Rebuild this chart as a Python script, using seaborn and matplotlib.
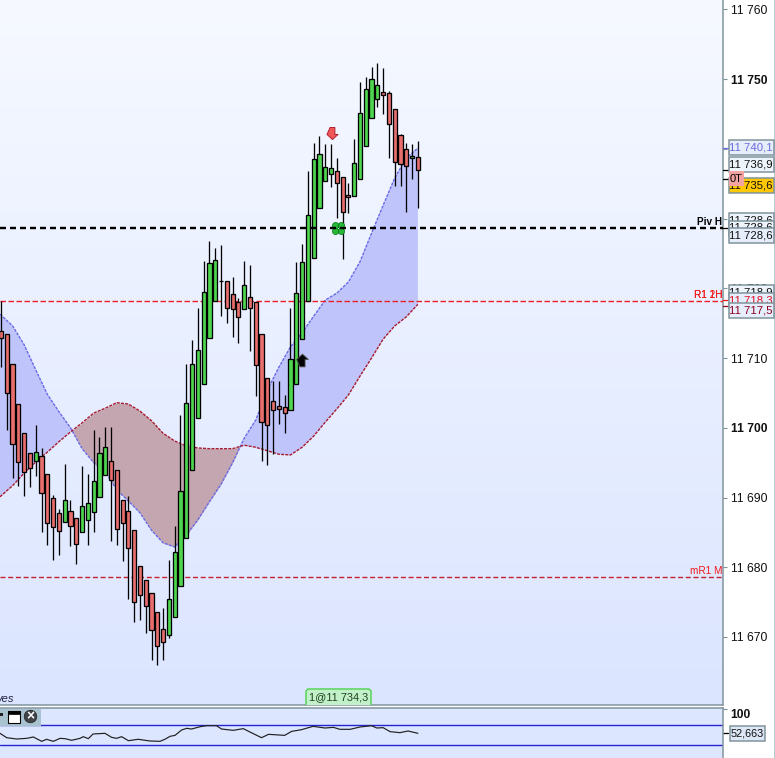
import matplotlib
matplotlib.use("Agg")
import matplotlib.pyplot as plt
import numpy as np
import seaborn as sns
from matplotlib.colors import LinearSegmentedColormap
from matplotlib.patches import Rectangle, FancyBboxPatch, Circle
from matplotlib.path import Path
from matplotlib.transforms import Affine2D

BASE = 11000  # every price list below is stored above this base
opens = [713.9,713.4,709.1,703.4,699.2,696.4,695.2,696.0,693.4,689.9,687.8,686.5,688.1,687.1,685.1,686.8,687.9,690.1,693.2,695.2,694.0,689.6,688.1,685.3,680.2,678.2,676.3,673.6,671.2,670.3,672.9,677.3,684.2,694.0,701.4,706.3,712.9,718.2,721.0,721.0,719.2,718.0,717.0,718.8,718.0,713.4,707.1,703.8,703.1,703.0,702.6,706.3,712.7,718.2,724.3,731.5,735.4,736.4,736.8,736.0,733.4,733.2,735.7,740.4,744.4,747.1,748.1,748.0,745.7,742.0,740.0,738.7,738.8]
closes = [712.9,705.0,697.7,695.1,693.7,694.2,696.5,690.6,686.4,685.8,685.2,689.6,685.9,683.3,688.8,689.2,692.4,696.4,697.2,692.5,685.5,686.4,682.8,675.0,676.0,674.5,671.0,668.7,669.3,675.5,682.2,690.9,703.6,709.1,711.2,719.5,723.6,724.1,721.0,717.2,717.0,715.9,720.5,717.2,709.0,700.8,700.4,702.6,702.7,702.1,709.9,719.3,723.8,730.5,738.5,739.3,737.4,737.2,735.1,730.9,733.1,738.0,745.1,748.6,750.0,749.1,747.7,743.6,738.1,737.8,737.5,739.0,737.0]
highs = [718.2,713.4,709.1,703.4,699.2,696.4,700.4,697.1,693.4,690.4,688.4,694.8,689.6,687.1,694.5,693.4,699.7,698.7,700.1,700.1,694.0,689.6,690.2,685.3,680.2,678.2,676.3,673.6,674.2,681.0,685.9,701.8,709.1,712.6,717.2,723.9,726.8,725.8,726.2,721.0,721.6,718.6,723.9,723.3,718.0,713.4,707.1,706.7,706.7,704.7,717.2,723.8,726.3,736.8,740.8,741.8,740.7,740.7,738.7,736.0,735.1,741.4,749.6,750.3,751.7,752.3,751.6,748.3,745.7,742.1,740.8,740.7,741.1]
lows = [708.7,699.7,692.8,691.7,690.2,691.5,693.1,685.1,683.2,681.0,681.8,686.5,683.1,680.5,685.1,683.2,685.1,690.1,693.2,683.8,683.2,680.9,675.5,672.2,672.4,670.6,666.7,666.0,666.7,669.9,672.9,677.3,684.2,694.0,701.4,706.3,712.9,718.2,716.0,715.0,713.0,712.2,717.0,711.0,704.6,695.2,694.7,696.2,700.5,699.2,702.6,706.3,712.7,718.2,724.3,731.5,735.4,734.5,730.1,724.2,730.8,733.2,735.7,740.4,744.4,746.0,745.0,738.7,734.7,734.7,730.9,735.7,731.5]

# Cloud boundaries, read at every second candle
cloud_idx = list(range(0, 73, 2))
cloud_blue = [716.3,714.6,711.9,708.3,704.8,702.3,700.0,697.0,695.0,693.7,691.1,689.5,687.8,685.3,683.5,682.9,684.6,686.8,689.4,691.9,695.0,698.5,701.1,705.4,708.7,711.6,713.6,716.0,718.3,719.3,720.9,723.8,727.9,731.9,735.8,738.7,740.1]
cloud_red = [690.1,691.7,693.5,695.1,696.5,698.0,699.4,700.7,702.1,702.8,703.6,703.4,702.4,701.0,699.2,698.1,697.4,697.1,697.0,697.0,697.0,697.5,697.2,696.7,696.2,696.1,697.2,698.8,700.8,702.7,704.7,707.4,710.0,712.7,714.6,715.9,717.7]

# Oscillator
osc_idx = [-0.17,0.98,2.7,4.43,5.58,7.02,7.88,9.04,10.2,11.05,12.2,13.64,14.22,15.08,15.9,17.96,19.1,19.97,20.84,22,23.7,25.7,27.46,28.3,29.2,30.05,31.2,32.07,32.9,34.4,35.5,37.2,38.1,40.1,41.85,43,45,46.2,49,50.2,51.9,53.9,55.96,57.4,58.55,60.3,62,64,64.9,66,67.2,68.9,70.3,72]
osc_val = [52.6,44.0,41.4,42.7,45.4,36.8,40.8,36.8,42.7,42.1,38.8,42.7,46.0,42.1,51.3,52.6,44.7,42.7,46.0,38.1,40.8,37.5,36.8,40.8,46.7,48.6,59.2,62.5,61.1,65.7,67.7,67.7,61.1,58.5,61.8,55.2,44.0,50.6,48.6,56.5,59.8,66.4,63.1,64.4,60.5,60.5,65.1,67.7,63.1,63.8,55.9,53.9,57.2,52.663]
osc_levels = [70, 30]

y_ticks = [11670, 11680, 11690, 11700, 11710, 11720, 11730, 11740, 11750, 11760]
y_labels = ["11 670", "11 680", "11 690", "11 700", "11 710", "11 720", "11 730", "11 740", "11 750", "11 760"]
bold_labels = ["11 700", "11 750"]

pivot_price = 11728.6
r1_price = 11718.2
mr1_price = 11678.6
marker_prices = [(11740.1, "#7070e8"), (11736.9, "black"), (11735.6, "black"), (11728.6, "black"), (11718.3, "#e02020"), (11717.5, "#900020")]
# text, top pixel, text colour, face colour
price_boxes = [
    ("11 740,1", 140, "#6a6ae0", "#e6eefb"),
    ("11 736,9", 157, "#101010", "#eef4fc"),
    ("11 735,6", 178, "#101010", "#ffc800"),
    ("11 728,6", 213, "#101010", "#eef4fc"),
    ("11 728,6", 220.5, "#101010", "#eef4fc"),
    ("11 728,6", 228, "#101010", "#e6eefb"),
    ("11 718,9", 285, "#101010", "#eef4fc"),
    ("11 718,3", 293, "#e01020", "#e6eefb"),
    ("11 717,5", 303, "#900020", "#e6eefb"),
]

sns.set_theme(style="white")
plt.rcParams["font.family"] = ["Liberation Sans", "DejaVu Sans"]
plt.rcParams["lines.scale_dashes"] = False

W, H = 775, 758
PX = 0.72
GRID = "#7f929c"
fig = plt.figure(figsize=(W / 100, H / 100), dpi=100, facecolor="white")
ax = fig.add_axes([0, (H - 705) / H, 723 / W, 705 / H])
sub = fig.add_axes([0, 0, 723 / W, 50 / H])
ov = fig.add_axes([0, 0, 1, 1], zorder=20)
ov.set_xlim(0, W); ov.set_ylim(H, 0); ov.axis("off"); ov.patch.set_alpha(0)

x_lim = (-1 / 5.79, 722 / 5.79)
y_lim = (11660.25, 11761.33)

grad = LinearSegmentedColormap.from_list("bg", ["#dbe5ff", "#f6f9ff"])
ax.imshow(np.linspace(0, 1, 256).reshape(-1, 1), cmap=grad, origin="lower", aspect="auto",
          extent=(0, 1, 0, 1), transform=ax.transAxes, zorder=0)

o = np.array(opens) + BASE; c = np.array(closes) + BASE
h = np.array(highs) + BASE; l = np.array(lows) + BASE
idx = np.arange(len(o))
cx = np.array(cloud_idx, float)
cx_draw = cx.copy(); cx_draw[0] = x_lim[0]
cb = np.array(cloud_blue) + BASE; cr = np.array(cloud_red) + BASE

ax.fill_between(cx_draw, cb, cr, where=cb >= cr, interpolate=True, color="#bfc4fb", lw=0, zorder=1)
ax.fill_between(cx_draw, cb, cr, where=cb <= cr, interpolate=True, color="#c4a6b0", lw=0, zorder=1)
sns.lineplot(x=cx_draw, y=cb, ax=ax, color="#6a6ae6", linewidth=1.0, linestyle=(0, (3 * PX, 1.2 * PX)), zorder=2)
sns.lineplot(x=cx_draw, y=cr, ax=ax, color="#a81c30", linewidth=1.0, linestyle=(0, (3 * PX, 1.2 * PX)), zorder=2)

ax.axhline(r1_price, color="#ee1c25", lw=1.4 * PX, dashes=(5.5 * PX, 2.5 * PX), zorder=3)
ax.axhline(mr1_price, color="#c8202c", lw=1.4 * PX, dashes=(5 * PX, 2.7 * PX), zorder=3)

colors = np.where(c >= o, "#4fd64f", "#e96e6e")
ax.vlines(idx, l, h, color="black", lw=1.3 * PX, zorder=4)
ax.bar(idx, np.abs(c - o), bottom=np.minimum(o, c), width=0.72, color=colors,
       edgecolor="black", linewidth=1.3 * PX, zorder=5)

ax.axhline(pivot_price, color="black", lw=2.4 * PX, dashes=(6 * PX, 4 * PX), zorder=6)

arrow_v = [(-.2,.5),(.2,.5),(.2,-.08),(.46,-.08),(0,-.5),(-.46,-.08),(-.2,.5)]
down = Path(arrow_v, closed=True)
up = Path([(x, -y) for x, y in arrow_v], closed=True)
ax.scatter([57.1], [11742.2], marker=down, s=75, color="#f05858", edgecolor="#b02030", linewidth=0.7, zorder=7)
ax.scatter([52], [11709.7], marker=up, s=84, color="black", edgecolor="#555555", linewidth=0.6, zorder=7)
circ = Path.unit_circle()
clover = Path.make_compound_path(*[circ.transformed(Affine2D().scale(.26).translate(a, b))
                                   for a, b in [(-.24, -.24), (.24, -.24), (-.24, .24), (.24, .24)]])
ax.scatter([58.2], [pivot_price], marker=clover, s=75, color="#28b838", edgecolor="#108020", linewidth=0.6, zorder=5.5)

ax.set_xlim(x_lim); ax.set_ylim(y_lim)
ax.set_xticks([])
ax.yaxis.tick_right()
ax.set_yticks(y_ticks)
ax.set_yticklabels(y_labels)
ax.tick_params(axis="y", right=True, length=3.2, width=0.8, color=GRID, pad=2.6, labelsize=8.7, labelcolor="#101010")
for t in ax.get_yticklabels():
    if t.get_text() in bold_labels:
        t.set_fontweight("bold")
for side in ["top", "left"]:
    ax.spines[side].set_visible(False)
for side in ["right", "bottom"]:
    ax.spines[side].set_color(GRID); ax.spines[side].set_linewidth(1.5 * PX); ax.spines[side].set_visible(True)

for price, col in marker_prices:
    ax.plot([x_lim[1], x_lim[1] + 0.9], [price, price], color=col, lw=1.3 * PX, clip_on=False, zorder=8)

# line captions
cap = ax.get_yaxis_transform()
ax.text(0.999, 11728.74, "Piv H", transform=cap, ha="right", va="bottom", fontsize=7.2, color="black", fontweight="bold", zorder=9)
ax.text(0.999, 11718.34, "R1 1H", transform=cap, ha="right", va="bottom", fontsize=7.2, color="#f01818", zorder=9)
ax.text(0.999, 11718.34, "R1 2H", transform=cap, ha="right", va="bottom", fontsize=7.2, color="#f01818", zorder=9)
ax.text(0.999, 11678.74, "mR1 M", transform=cap, ha="right", va="bottom", fontsize=7.2, color="#f01818", zorder=9)

# oscillator panel
sub.set_facecolor("#dde6ff")
for lv in osc_levels:
    sub.axhline(lv, color="#2424d0", lw=1.4 * PX)
sns.lineplot(x=osc_idx, y=osc_val, ax=sub, color="#222222", linewidth=1.2 * PX, sort=False, zorder=3)
sub.set_xlim(x_lim); sub.set_ylim(3.9, 102.6)
sub.set_xticks([])
sub.yaxis.tick_right()
sub.set_yticks([100]); sub.set_yticklabels(["100"])
sub.tick_params(axis="y", right=True, length=3.2, width=0.8, color=GRID, pad=1.8, labelsize=8.7, labelcolor="#101010")
for t in sub.get_yticklabels():
    t.set_va("top"); t.set_fontweight("bold")
for side in ["left", "bottom"]:
    sub.spines[side].set_visible(False)
for side in ["top", "right"]:
    sub.spines[side].set_color(GRID); sub.spines[side].set_linewidth(1.5 * PX); sub.spines[side].set_visible(True)
sub.plot([x_lim[1], x_lim[1] + 0.9], [52.663, 52.663], color="black", lw=1.3 * PX, clip_on=False)

# overlay: price boxes, order badge, toolbar
for i, (txt, top, tc, fc) in enumerate(price_boxes):
    z = 3 + i
    ov.add_patch(Rectangle((728.5, top), 45, 15, fc=fc, ec=GRID, lw=1.5 * PX, zorder=z))
    ov.text(751, top + 7.5, txt, ha="center", va="center", fontsize=8.2, color=tc, zorder=z + 0.5)
ov.add_patch(Rectangle((728.5, 171), 15, 15, fc="#f4a3a3", ec="none", zorder=30))
ov.text(736, 178.5, "0T", ha="center", va="center", fontsize=8, color="black", zorder=31)

ov.plot([774.5, 774.5], [0, H], color="#a4c4d0", lw=1.2, zorder=2)

ov.add_patch(Rectangle((729.5, 725.5), 35, 15, fc="#dde7f5", ec=GRID, lw=1.5 * PX, zorder=3))
ov.text(747, 733, "52,663", ha="center", va="center", fontsize=7.8, color="#101010", zorder=4)

badge = FancyBboxPatch((306, 689), 65, 24, boxstyle="round,pad=0,rounding_size=3", fc="#c2f0c8", ec="#4cd24c", lw=1.0, zorder=3)
ov.add_patch(badge)
badge.set_clip_path(Rectangle((300, 680), 80, 24.5, transform=ov.transData))
ov.text(338.5, 697.5, "1@11 734,3", ha="center", va="center", fontsize=7.9, color="#204020", zorder=4)

ov.text(14, 699, "ves", ha="right", va="center", fontsize=8, style="italic", color="#202040", zorder=4)

ov.add_patch(Rectangle((0, 708.5), 41, 17, fc="#a9c2cf", ec="none", zorder=3))
ov.add_patch(Rectangle((0, 713), 3, 3, fc="#202020", ec="none", zorder=4))
ov.add_patch(Rectangle((8, 711), 12, 12, fc="white", ec="black", lw=0.8, zorder=4))
ov.add_patch(Rectangle((8, 711), 12, 3, fc="black", ec="black", lw=0.5, zorder=5))
ov.add_patch(Circle((30.5, 716.5), 6.3, fc="#404448", ec="#202020", lw=0.5, zorder=4))
ov.text(30.5, 716.3, "×", ha="center", va="center", fontsize=10, fontweight="bold", color="white", zorder=5)

fig.savefig("out.png", dpi=100)
